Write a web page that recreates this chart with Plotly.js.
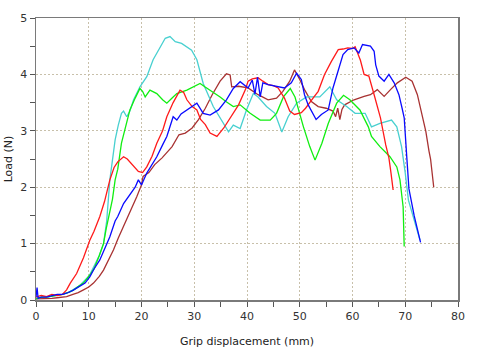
<!DOCTYPE html>
<html>
<head>
<meta charset="utf-8">
<script src="https://cdn.plot.ly/plotly-3.0.1.min.js"></script>
<style>html,body{margin:0;padding:0;background:#fff;}#chart{width:480px;height:360px;}</style>
</head>
<body>
<div id="chart"></div>
<script>
// Grip displacement (mm) vs Load (N) for five specimens
const redX = [0,1,2,3,4,5,5.8,6.5,7.7,9,10.2,11,12.1,13,14,14.8,15.5,16.6,17.3,18.1,19.4,20.2,21,22,22.9,24,24.8,26,27.3,28,28.6,29.6,30.5,31.2,32.1,33,34.3,35.6,36.8,38.4,39.7,40.2,41,42.1,43,44,45,45.9,47.1,48.1,49,50.3,51.1,51.9,52.7,53.5,54.7,56,57.3,58.2,59.1,60,60.5,61,61.5,62.2,63.1,64.1,65.3,66.3,66.9,67.3,67.7];
const redY = [0.05,0.08,0.06,0.1,0.08,0.1,0.18,0.3,0.47,0.75,1.06,1.22,1.48,1.75,2.13,2.35,2.45,2.54,2.5,2.42,2.28,2.26,2.36,2.55,2.78,3.0,3.25,3.5,3.72,3.68,3.55,3.43,3.37,3.2,3.11,2.96,2.9,3.05,3.23,3.46,3.73,3.88,3.92,3.94,3.88,3.82,3.8,3.76,3.58,3.35,3.29,3.32,3.4,3.49,3.6,3.7,4.0,4.23,4.44,4.45,4.47,4.46,4.49,4.37,4.25,4.0,3.97,3.64,3.23,2.75,2.52,2.25,1.95];

const greenX = [0,1,2,3,4,5,6.3,7,8.2,9,10.1,11,12,12.8,13.3,13.8,14.5,15,15.5,16.2,17,17.8,18.8,19.7,20.2,20.7,21.6,22.9,24,24.8,25.8,26.7,28.6,30,31.1,32,33,34.9,36,37.4,38.7,40.6,42.5,44.4,45.6,46.9,48.2,49.1,50.7,51.9,52.9,54.2,55.4,57,58.3,59.5,61.4,63,63.6,65.2,67.1,68.4,69,69.6,69.8];
const greenY = [0.02,0.05,0.05,0.07,0.08,0.1,0.14,0.17,0.25,0.3,0.43,0.55,0.79,1.0,1.26,1.5,1.79,2.13,2.32,2.78,3.1,3.37,3.58,3.75,3.7,3.6,3.72,3.66,3.55,3.49,3.58,3.66,3.72,3.78,3.84,3.78,3.72,3.6,3.52,3.43,3.46,3.31,3.19,3.19,3.31,3.6,3.75,3.6,3.07,2.72,2.48,2.78,3.13,3.49,3.63,3.55,3.37,3.07,2.9,2.72,2.54,2.36,2.13,1.65,0.95];

const cyanX = [0,1,2,3,4,5,6.3,8.2,10.1,12,12.8,13.4,14,15,15.6,16.2,16.6,17.2,17.8,18.5,19.7,21,22.2,23.5,24.5,25.4,26.4,27.6,29.5,30.5,31.7,33.6,35.5,36.5,37.4,38.7,39.9,41.2,42.1,43.7,45.3,46.6,47.8,49.4,51.3,53.8,55.7,57,58.9,60.5,62.4,63.6,65.2,67.4,68.4,69.3,70,70.6,71.5,72.8];
const cyanY = [0.02,0.05,0.05,0.07,0.08,0.1,0.14,0.25,0.43,0.79,1.0,1.4,2.13,2.84,3.1,3.31,3.35,3.25,3.35,3.55,3.78,3.96,4.26,4.49,4.64,4.67,4.58,4.55,4.43,4.26,3.84,3.43,3.13,2.98,3.1,3.04,3.37,3.66,3.6,3.43,3.31,2.98,3.25,3.49,3.6,3.6,3.78,3.55,3.43,3.31,3.31,3.07,3.13,3.19,3.07,2.72,2.25,1.77,1.48,1.06];

const blueX = [0,0.2,0.4,1,2,3,4,5,5.8,7,8.3,9.3,10.2,11,12.1,13,14,15,15.5,16.6,18.1,18.8,19.4,20,21,22,22.9,24,24.8,26,26.7,27.5,28.6,30.5,31.7,33,34.6,36.1,37.4,38.7,40.2,41,41.5,42,42.5,43,44,45.9,47.1,48.4,49.4,50.3,50.9,51.6,52.5,53.1,54.1,55.4,56.3,57.3,58.2,59.1,60.3,61.2,61.9,63.4,64.1,64.4,65,66,66.9,67.9,68.8,69.4,69.8,70.3,70.7,71.7,72.9];
const blueY = [0.05,0.22,0.03,0.05,0.05,0.08,0.1,0.1,0.12,0.17,0.24,0.3,0.41,0.55,0.71,0.9,1.12,1.4,1.48,1.71,1.92,2.0,2.13,2.04,2.25,2.4,2.54,2.75,2.9,3.25,3.19,3.3,3.37,3.49,3.31,3.28,3.37,3.55,3.75,3.87,3.76,3.9,3.65,3.95,3.6,3.85,3.82,3.79,3.76,3.85,4.02,3.91,3.64,3.46,3.29,3.2,3.29,3.37,3.76,4.05,4.35,4.44,4.47,4.38,4.53,4.5,4.41,4.17,3.97,3.88,4.0,3.85,3.64,3.4,3.23,2.52,1.97,1.49,1.02];

const brownX = [0,1,2,3,4,5,5.8,7,8,9,10,10.9,12,12.8,13.7,14.7,15.6,16.6,17.5,18.3,19.1,20,20.3,21.4,22.5,23.9,25.8,27.1,28.3,29.6,30.8,32.1,33.4,34.9,36.1,36.8,37.1,38.4,40.2,42.1,44,45.6,46.8,48.1,49,50,50.9,52.2,53.5,55,56.3,56.8,57.2,57.6,58,58.5,60.3,62.2,63.4,64.7,66,67.2,68.5,70.1,71.3,72.3,73.2,73.9,74.5,74.8,75.4];
const brownY = [0.02,0.02,0.03,0.03,0.04,0.05,0.06,0.1,0.13,0.18,0.23,0.3,0.42,0.53,0.7,0.89,1.1,1.3,1.48,1.65,1.83,2.04,2.19,2.26,2.4,2.52,2.72,2.93,2.96,3.05,3.2,3.4,3.64,3.88,4.01,3.99,3.78,3.79,3.76,3.64,3.55,3.58,3.7,3.88,4.08,3.91,3.73,3.52,3.43,3.4,3.35,3.25,3.4,3.2,3.38,3.46,3.55,3.61,3.64,3.73,3.61,3.73,3.85,3.95,3.88,3.64,3.29,2.99,2.64,2.5,2.0];

const xTitle = "Grip displacement (mm)";
const yTitle = "Load (N)";

function series(x, y, color) {
  return {x: x, y: y, type: 'scatter', mode: 'lines', line: {color: color, width: 1.3}, hoverinfo: 'skip'};
}

const traces = [
  series(brownX, brownY, '#a83232'),
  series(cyanX, cyanY, '#48d0d0'),
  series(greenX, greenY, '#10ee10'),
  series(redX, redY, '#ff1a1a'),
  series(blueX, blueY, '#0a0aff')
];

const axisCommon = {
  showline: true, linecolor: '#7a7a7a', linewidth: 1.5, mirror: true,
  ticks: 'outside', ticklen: 5, tickcolor: '#555', tickwidth: 1,
  showgrid: true, gridcolor: '#c8c0aa', gridwidth: 1, griddash: '2px,2px',
  zeroline: false, tickfont: {family: 'DejaVu Sans', size: 11, color: '#333'}
};

const layout = {
  width: 480, height: 360,
  margin: {l: 36, r: 22, t: 18, b: 60},
  paper_bgcolor: '#fff', plot_bgcolor: '#fff',
  showlegend: false,
  font: {family: 'DejaVu Sans', size: 11, color: '#333'},
  xaxis: Object.assign({}, axisCommon, {
    range: [0, 80], dtick: 10, tick0: 0,
    minor: {dtick: 5, ticks: 'outside', ticklen: 5, tickcolor: '#555', showgrid: false},
    title: {text: xTitle, font: {family: 'DejaVu Sans', size: 11, color: '#222'}, standoff: 15}
  }),
  yaxis: Object.assign({}, axisCommon, {
    range: [0, 5], dtick: 1, tick0: 0,
    minor: {dtick: 0.5, ticks: 'outside', ticklen: 5, tickcolor: '#555', showgrid: false},
    title: {text: yTitle, font: {family: 'DejaVu Sans', size: 11, color: '#222'}, standoff: 5}
  })
};

Plotly.newPlot('chart', traces, layout, {displayModeBar: false, staticPlot: true});
</script>
</body>
</html>
